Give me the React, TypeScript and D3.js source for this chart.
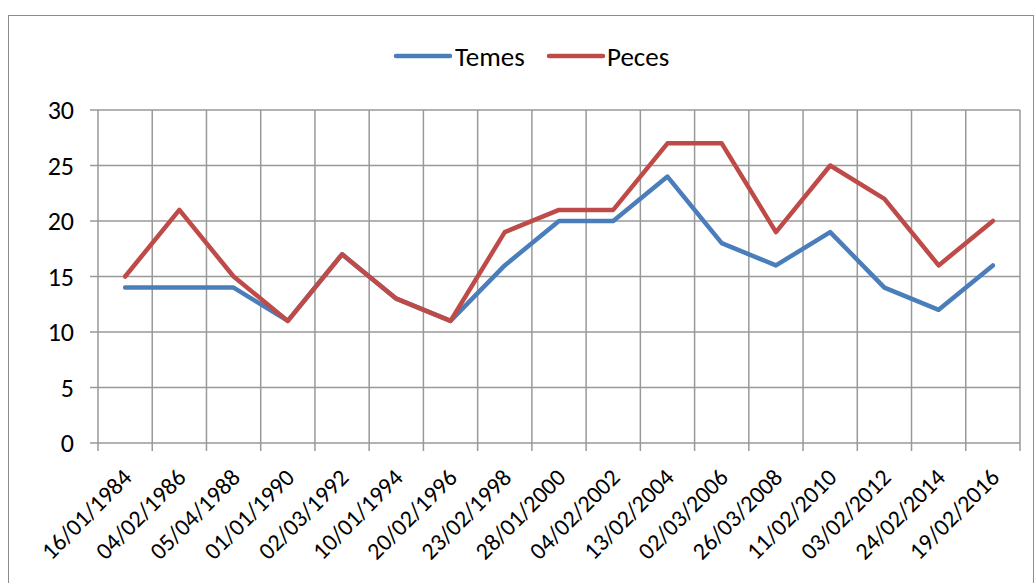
import React from "react";
import * as d3 from "d3";

const fechas = [
  "16/01/1984", "04/02/1986", "05/04/1988", "01/01/1990", "02/03/1992",
  "10/01/1994", "20/02/1996", "23/02/1998", "28/01/2000", "04/02/2002",
  "13/02/2004", "02/03/2006", "26/03/2008", "11/02/2010", "03/02/2012",
  "24/02/2014", "19/02/2016",
];
const temes = [14, 14, 14, 11, 17, 13, 11, 16, 20, 20, 24, 18, 16, 19, 14, 12, 16];
const peces = [15, 21, 15, 11, 17, 13, 11, 19, 21, 21, 27, 27, 19, 25, 22, 16, 20];
const yTicks = [0, 5, 10, 15, 20, 25, 30];

const series = [
  { name: "Temes", values: temes, color: "#4A7EBB" },
  { name: "Peces", values: peces, color: "#BE4B48" },
];

export default function App() {
  const width = 1035;
  const height = 583;
  const left = 98;
  const right = 1020;
  const top = 110;
  const bottom = 443;
  const font = "Carlito, 'Liberation Sans', 'Open Sans', sans-serif";

  const x = d3.scaleBand<string>().domain(fechas).range([left, right]);
  const y = d3.scaleLinear().domain([0, 30]).range([bottom, top]);
  const bounds = [...fechas.map((f) => x(f)!), right];

  const line = d3
    .line<number>()
    .x((_, i) => x(fechas[i])! + x.bandwidth() / 2)
    .y((d) => y(d));

  return (
    <svg width={width} height={height} style={{ position: "absolute", left: 0, top: 0 }}>
      <rect x={8.5} y={15.5} width={1025} height={580} fill="white" stroke="#8c8c8c" strokeWidth={1} />

      {/* grid */}
      {yTicks.map((t) => (
        <g key={t}>
          <line x1={left - 8} x2={right} y1={y(t)} y2={y(t)} stroke="#999" strokeWidth={1.5} />
          <text x={74} y={y(t)} textAnchor="end" dominantBaseline="central" fontSize={26} fontFamily={font}>
            {t}
          </text>
        </g>
      ))}
      {bounds.map((b, i) => (
        <line key={i} x1={b} x2={b} y1={top} y2={bottom + 8} stroke="#999" strokeWidth={1.5} />
      ))}

      {/* x labels */}
      {fechas.map((f) => {
        const cx = x(f)! + x.bandwidth() / 2 + 2;
        const cy = bottom + 30;
        return (
          <text
            key={f}
            x={cx}
            y={cy}
            textAnchor="end"
            dominantBaseline="central"
            fontSize={24}
            fontFamily={font}
            transform={`rotate(-45, ${cx}, ${cy})`}
          >
            {f}
          </text>
        );
      })}

      {/* lines */}
      {series.map((s) => (
        <path
          key={s.name}
          d={line(s.values)!}
          fill="none"
          stroke={s.color}
          strokeWidth={4.5}
          strokeLinejoin="round"
          strokeLinecap="round"
        />
      ))}

      {/* legend */}
      <g fontFamily={font} fontSize={27}>
        <line x1={396} x2={450} y1={56} y2={56} stroke={series[0].color} strokeWidth={4.5} strokeLinecap="round" />
        <text x={455} y={56} dominantBaseline="central">Temes</text>
        <line x1={549} x2={603} y1={56} y2={56} stroke={series[1].color} strokeWidth={4.5} strokeLinecap="round" />
        <text x={607} y={56} dominantBaseline="central">Peces</text>
      </g>
    </svg>
  );
}
